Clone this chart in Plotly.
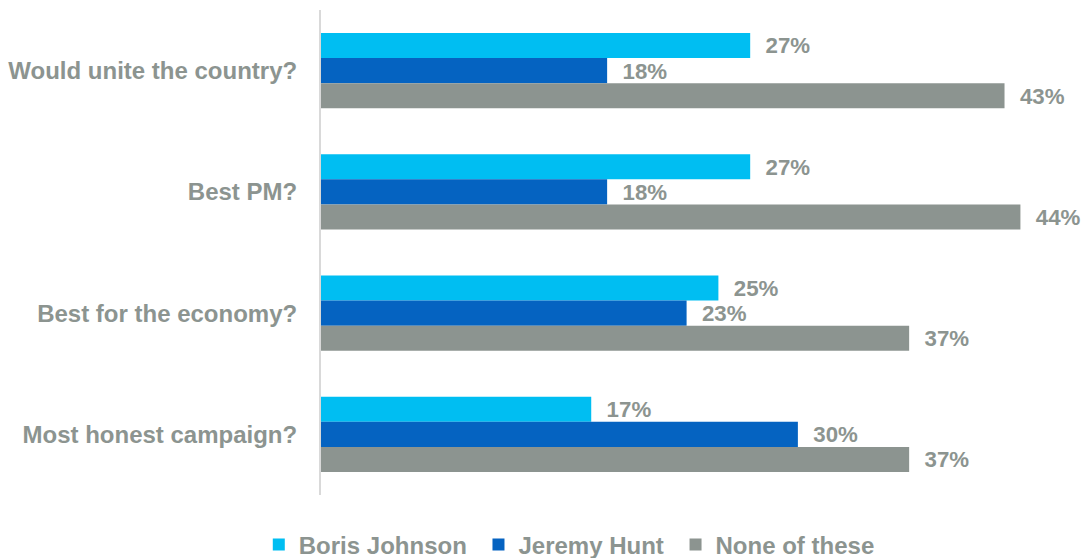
import plotly.graph_objects as go

categories = ["Would unite the country?", "Best PM?", "Best for the economy?", "Most honest campaign?"]
boris = [27, 27, 25, 17]
hunt = [18, 18, 23, 30]
none_ = [43, 44, 37, 37]
series_names = ["Boris Johnson", "Jeremy Hunt", "None of these"]
colors = ["#00BEF2", "#0563C1", "#8C9490"]
text_color = "#8C9490"
FONT = "Liberation Sans, Arial, sans-serif"
NB = "\u00a0"

fig = go.Figure()
for name, vals, col in zip(series_names, [boris, hunt, none_], colors):
    fig.add_trace(go.Bar(
        y=categories, x=vals, name=name + NB, orientation="h",
        marker=dict(color=col, line=dict(width=0)),
        text=[f"{NB}{NB}{v}%" for v in vals], textposition="outside",
        textfont=dict(family=FONT, size=24, color=text_color, weight="bold"),
        cliponaxis=False,
    ))

fig.update_layout(
    barmode="group", bargap=0.38, bargroupgap=0,
    width=1087, height=558,
    margin=dict(l=321, r=3, t=10, b=63, autoexpand=False),
    plot_bgcolor="white", paper_bgcolor="white",
    xaxis=dict(range=[0, 48], visible=False, showgrid=False),
    yaxis=dict(autorange="reversed", showline=True, linecolor="#D9D9D9", linewidth=2,
               showgrid=False, ticks="", ticklabelstandoff=17, automargin=False,
               tickfont=dict(family=FONT, size=24, color=text_color, weight="bold")),
    legend=dict(orientation="h", x=0.33, xanchor="center", y=-0.103, yanchor="middle",
                font=dict(family=FONT, size=24, color=text_color, weight="bold"),
                itemwidth=30, traceorder="normal"),
    showlegend=True,
)
fig.write_html("out.html", config={"displayModeBar": False},
               post_script="document.body.style.margin='0';document.body.style.padding='0';")
